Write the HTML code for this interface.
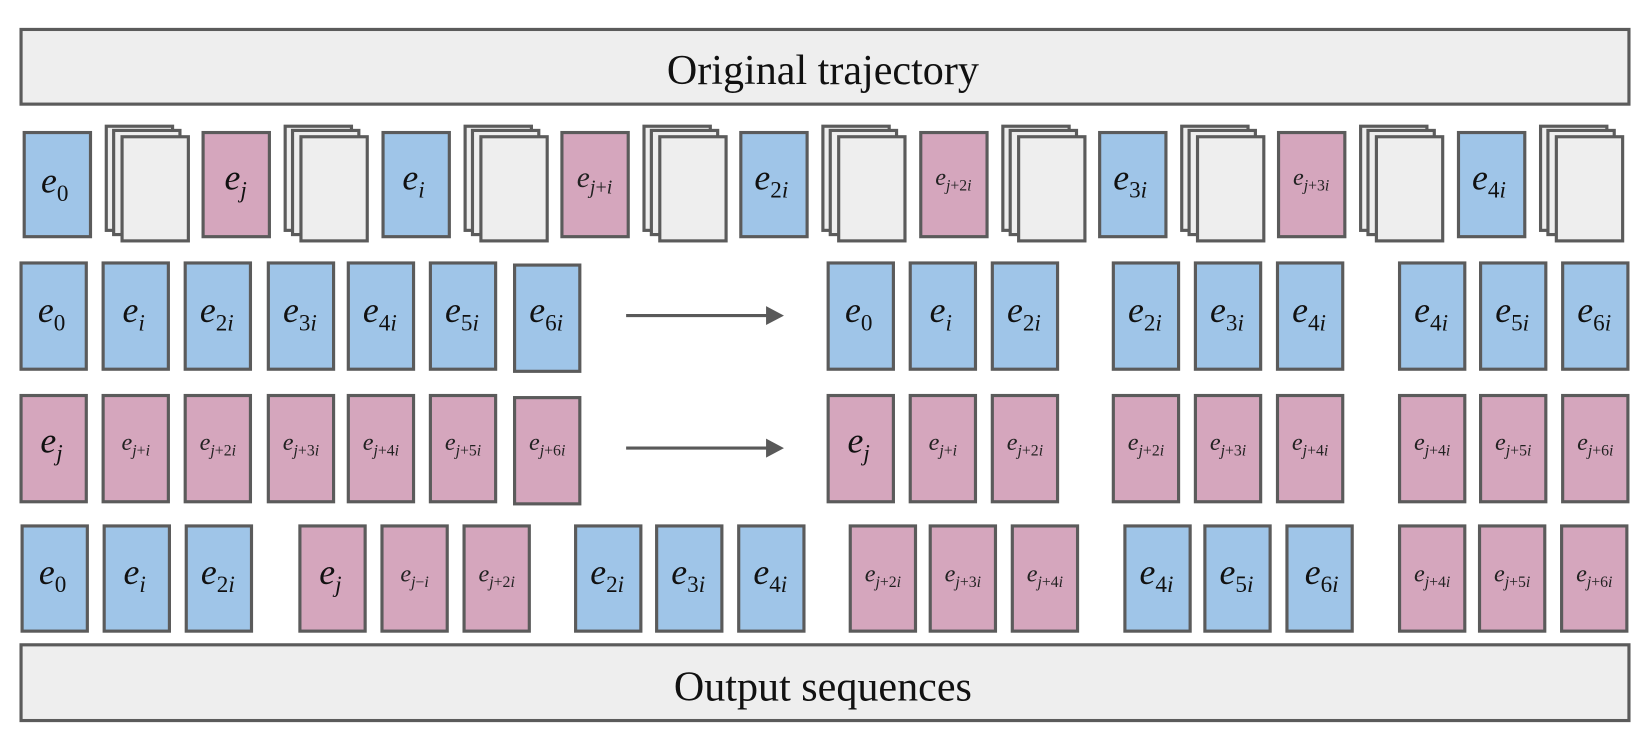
<!DOCTYPE html>
<html><head><meta charset="utf-8"><style>
html,body{margin:0;padding:0;background:#fff;}
svg{display:block;}
.b{font-family:"Liberation Serif",serif;font-style:italic;font-size:34px;text-anchor:middle;fill:#111;}
.m{font-family:"Liberation Serif",serif;font-style:italic;font-size:28px;text-anchor:middle;fill:#222;}
.t{font-family:"Liberation Serif",serif;font-style:italic;font-size:23px;text-anchor:middle;fill:#222;}
.n{font-style:normal;}
.bl{fill:#9fc5e8;stroke:#5b5b5b;stroke-width:3;}
.pk{fill:#d5a6bd;stroke:#5b5b5b;stroke-width:3;}
.gr{fill:#eeeeee;stroke:#5b5b5b;stroke-width:3;}
.bar{font-family:"Liberation Serif",serif;font-size:40px;text-anchor:middle;fill:#111;}
</style></head><body>
<svg width="1650" height="750" viewBox="0 0 1568 713" preserveAspectRatio="none" xmlns="http://www.w3.org/2000/svg">
<rect class="gr" x="20" y="28" width="1528" height="71"/>
<text class="bar" x="782" y="80">Original trajectory</text>
<rect class="gr" x="20" y="613" width="1528" height="72"/>
<text class="bar" x="782" y="666">Output sequences</text>

<!-- Row 1 -->
<rect class="bl" x="23" y="126" width="63" height="99"/>
<text class="b" x="52" y="183">e<tspan class="n" font-size="22" dy="8">0</tspan></text>
<rect class="pk" x="193" y="126" width="63" height="99"/>
<text class="b" x="224" y="180">e<tspan font-size="22" dy="8">j</tspan></text>
<rect class="bl" x="364" y="126" width="63" height="99"/>
<text class="b" x="393" y="180">e<tspan font-size="22" dy="8">i</tspan></text>
<rect class="pk" x="534" y="126" width="63" height="99"/>
<text class="m" x="565" y="178">e<tspan font-size="19" dy="6">j<tspan class="n">+</tspan>i</tspan></text>
<rect class="bl" x="704" y="126" width="63" height="99"/>
<text class="b" x="733" y="180">e<tspan font-size="22" dy="8"><tspan class="n">2</tspan>i</tspan></text>
<rect class="pk" x="875" y="126" width="63" height="99"/>
<text class="t" x="906" y="176">e<tspan font-size="15" dy="5">j<tspan class="n">+2</tspan>i</tspan></text>
<rect class="bl" x="1045" y="126" width="63" height="99"/>
<text class="b" x="1074" y="180">e<tspan font-size="22" dy="8"><tspan class="n">3</tspan>i</tspan></text>
<rect class="pk" x="1215" y="126" width="63" height="99"/>
<text class="t" x="1246" y="176">e<tspan font-size="15" dy="5">j<tspan class="n">+3</tspan>i</tspan></text>
<rect class="bl" x="1386" y="126" width="63" height="99"/>
<text class="b" x="1415" y="180">e<tspan font-size="22" dy="8"><tspan class="n">4</tspan>i</tspan></text>

<g id="st">
<rect class="gr" x="101" y="120" width="63" height="99"/>
<rect class="gr" x="108" y="124" width="63" height="99"/>
<rect class="gr" x="116" y="130" width="63" height="99"/>
</g>
<use href="#st" x="170"/>
<use href="#st" x="341"/>
<use href="#st" x="511"/>
<use href="#st" x="681"/>
<use href="#st" x="852"/>
<use href="#st" x="1022"/>
<use href="#st" x="1192"/>
<use href="#st" x="1363"/>

<!-- Row 2 -->
<g>
<rect class="bl" x="20" y="250" width="62" height="101"/>
<rect class="bl" x="98" y="250" width="62" height="101"/>
<rect class="bl" x="176" y="250" width="62" height="101"/>
<rect class="bl" x="255" y="250" width="62" height="101"/>
<rect class="bl" x="331" y="250" width="62" height="101"/>
<rect class="bl" x="409" y="250" width="62" height="101"/>
<rect class="bl" x="489" y="252" width="62" height="101"/>
<rect class="bl" x="787" y="250" width="62" height="101"/>
<rect class="bl" x="865" y="250" width="62" height="101"/>
<rect class="bl" x="943" y="250" width="62" height="101"/>
<rect class="bl" x="1058" y="250" width="62" height="101"/>
<rect class="bl" x="1136" y="250" width="62" height="101"/>
<rect class="bl" x="1214" y="250" width="62" height="101"/>
<rect class="bl" x="1330" y="250" width="62" height="101"/>
<rect class="bl" x="1407" y="250" width="62" height="101"/>
<rect class="bl" x="1485" y="250" width="62" height="101"/>
</g>
<text class="b" x="49" y="306">e<tspan class="n" font-size="22" dy="8">0</tspan></text>
<text class="b" x="127" y="306">e<tspan font-size="22" dy="8">i</tspan></text>
<text class="b" x="206" y="306">e<tspan font-size="22" dy="8"><tspan class="n">2</tspan>i</tspan></text>
<text class="b" x="285" y="306">e<tspan font-size="22" dy="8"><tspan class="n">3</tspan>i</tspan></text>
<text class="b" x="361" y="306">e<tspan font-size="22" dy="8"><tspan class="n">4</tspan>i</tspan></text>
<text class="b" x="439" y="306">e<tspan font-size="22" dy="8"><tspan class="n">5</tspan>i</tspan></text>
<text class="b" x="519" y="306">e<tspan font-size="22" dy="8"><tspan class="n">6</tspan>i</tspan></text>
<text class="b" x="816" y="306">e<tspan class="n" font-size="22" dy="8">0</tspan></text>
<text class="b" x="894" y="306">e<tspan font-size="22" dy="8">i</tspan></text>
<text class="b" x="973" y="306">e<tspan font-size="22" dy="8"><tspan class="n">2</tspan>i</tspan></text>
<text class="b" x="1088" y="306">e<tspan font-size="22" dy="8"><tspan class="n">2</tspan>i</tspan></text>
<text class="b" x="1166" y="306">e<tspan font-size="22" dy="8"><tspan class="n">3</tspan>i</tspan></text>
<text class="b" x="1244" y="306">e<tspan font-size="22" dy="8"><tspan class="n">4</tspan>i</tspan></text>
<text class="b" x="1360" y="306">e<tspan font-size="22" dy="8"><tspan class="n">4</tspan>i</tspan></text>
<text class="b" x="1437" y="306">e<tspan font-size="22" dy="8"><tspan class="n">5</tspan>i</tspan></text>
<text class="b" x="1515" y="306">e<tspan font-size="22" dy="8"><tspan class="n">6</tspan>i</tspan></text>

<line x1="595" y1="300" x2="730" y2="300" stroke="#595959" stroke-width="3"/>
<polygon points="728,291 745,300 728,309" fill="#595959"/>
<line x1="595" y1="426" x2="730" y2="426" stroke="#595959" stroke-width="3"/>
<polygon points="728,417 745,426 728,435" fill="#595959"/>

<!-- Row 3 -->
<g>
<rect class="pk" x="20" y="376" width="62" height="101"/>
<rect class="pk" x="98" y="376" width="62" height="101"/>
<rect class="pk" x="176" y="376" width="62" height="101"/>
<rect class="pk" x="255" y="376" width="62" height="101"/>
<rect class="pk" x="331" y="376" width="62" height="101"/>
<rect class="pk" x="409" y="376" width="62" height="101"/>
<rect class="pk" x="489" y="378" width="62" height="101"/>
<rect class="pk" x="787" y="376" width="62" height="101"/>
<rect class="pk" x="865" y="376" width="62" height="101"/>
<rect class="pk" x="943" y="376" width="62" height="101"/>
<rect class="pk" x="1058" y="376" width="62" height="101"/>
<rect class="pk" x="1136" y="376" width="62" height="101"/>
<rect class="pk" x="1214" y="376" width="62" height="101"/>
<rect class="pk" x="1330" y="376" width="62" height="101"/>
<rect class="pk" x="1407" y="376" width="62" height="101"/>
<rect class="pk" x="1485" y="376" width="62" height="101"/>
</g>
<text class="b" x="49" y="430">e<tspan font-size="22" dy="8">j</tspan></text>
<text class="t" x="129" y="428">e<tspan font-size="15" dy="5">j<tspan class="n">+</tspan>i</tspan></text>
<text class="t" x="207" y="428">e<tspan font-size="15" dy="5">j<tspan class="n">+2</tspan>i</tspan></text>
<text class="t" x="286" y="428">e<tspan font-size="15" dy="5">j<tspan class="n">+3</tspan>i</tspan></text>
<text class="t" x="362" y="428">e<tspan font-size="15" dy="5">j<tspan class="n">+4</tspan>i</tspan></text>
<text class="t" x="440" y="428">e<tspan font-size="15" dy="5">j<tspan class="n">+5</tspan>i</tspan></text>
<text class="t" x="520" y="428">e<tspan font-size="15" dy="5">j<tspan class="n">+6</tspan>i</tspan></text>
<text class="b" x="816" y="430">e<tspan font-size="22" dy="8">j</tspan></text>
<text class="t" x="896" y="428">e<tspan font-size="15" dy="5">j<tspan class="n">+</tspan>i</tspan></text>
<text class="t" x="974" y="428">e<tspan font-size="15" dy="5">j<tspan class="n">+2</tspan>i</tspan></text>
<text class="t" x="1089" y="428">e<tspan font-size="15" dy="5">j<tspan class="n">+2</tspan>i</tspan></text>
<text class="t" x="1167" y="428">e<tspan font-size="15" dy="5">j<tspan class="n">+3</tspan>i</tspan></text>
<text class="t" x="1245" y="428">e<tspan font-size="15" dy="5">j<tspan class="n">+4</tspan>i</tspan></text>
<text class="t" x="1361" y="428">e<tspan font-size="15" dy="5">j<tspan class="n">+4</tspan>i</tspan></text>
<text class="t" x="1438" y="428">e<tspan font-size="15" dy="5">j<tspan class="n">+5</tspan>i</tspan></text>
<text class="t" x="1516" y="428">e<tspan font-size="15" dy="5">j<tspan class="n">+6</tspan>i</tspan></text>

<!-- Row 4 -->
<g>
<rect class="bl" x="21" y="500" width="62" height="100"/>
<rect class="bl" x="99" y="500" width="62" height="100"/>
<rect class="bl" x="177" y="500" width="62" height="100"/>
<rect class="pk" x="285" y="500" width="62" height="100"/>
<rect class="pk" x="363" y="500" width="62" height="100"/>
<rect class="pk" x="441" y="500" width="62" height="100"/>
<rect class="bl" x="547" y="500" width="62" height="100"/>
<rect class="bl" x="624" y="500" width="62" height="100"/>
<rect class="bl" x="702" y="500" width="62" height="100"/>
<rect class="pk" x="808" y="500" width="62" height="100"/>
<rect class="pk" x="884" y="500" width="62" height="100"/>
<rect class="pk" x="962" y="500" width="62" height="100"/>
<rect class="bl" x="1069" y="500" width="62" height="100"/>
<rect class="bl" x="1145" y="500" width="62" height="100"/>
<rect class="bl" x="1223" y="500" width="62" height="100"/>
<rect class="pk" x="1330" y="500" width="62" height="100"/>
<rect class="pk" x="1406" y="500" width="62" height="100"/>
<rect class="pk" x="1484" y="500" width="62" height="100"/>
</g>
<text class="b" x="50" y="555">e<tspan class="n" font-size="22" dy="8">0</tspan></text>
<text class="b" x="128" y="555">e<tspan font-size="22" dy="8">i</tspan></text>
<text class="b" x="207" y="555">e<tspan font-size="22" dy="8"><tspan class="n">2</tspan>i</tspan></text>
<text class="b" x="314" y="555">e<tspan font-size="22" dy="8">j</tspan></text>
<text class="t" x="394" y="553">e<tspan font-size="15" dy="5">j<tspan class="n">−</tspan>i</tspan></text>
<text class="t" x="472" y="553">e<tspan font-size="15" dy="5">j<tspan class="n">+2</tspan>i</tspan></text>
<text class="b" x="577" y="555">e<tspan font-size="22" dy="8"><tspan class="n">2</tspan>i</tspan></text>
<text class="b" x="654" y="555">e<tspan font-size="22" dy="8"><tspan class="n">3</tspan>i</tspan></text>
<text class="b" x="732" y="555">e<tspan font-size="22" dy="8"><tspan class="n">4</tspan>i</tspan></text>
<text class="t" x="839" y="553">e<tspan font-size="15" dy="5">j<tspan class="n">+2</tspan>i</tspan></text>
<text class="t" x="915" y="553">e<tspan font-size="15" dy="5">j<tspan class="n">+3</tspan>i</tspan></text>
<text class="t" x="993" y="553">e<tspan font-size="15" dy="5">j<tspan class="n">+4</tspan>i</tspan></text>
<text class="b" x="1099" y="555">e<tspan font-size="22" dy="8"><tspan class="n">4</tspan>i</tspan></text>
<text class="b" x="1175" y="555">e<tspan font-size="22" dy="8"><tspan class="n">5</tspan>i</tspan></text>
<text class="b" x="1256" y="555">e<tspan font-size="22" dy="8"><tspan class="n">6</tspan>i</tspan></text>
<text class="t" x="1361" y="553">e<tspan font-size="15" dy="5">j<tspan class="n">+4</tspan>i</tspan></text>
<text class="t" x="1437" y="553">e<tspan font-size="15" dy="5">j<tspan class="n">+5</tspan>i</tspan></text>
<text class="t" x="1515" y="553">e<tspan font-size="15" dy="5">j<tspan class="n">+6</tspan>i</tspan></text>
</svg>
</body></html>
